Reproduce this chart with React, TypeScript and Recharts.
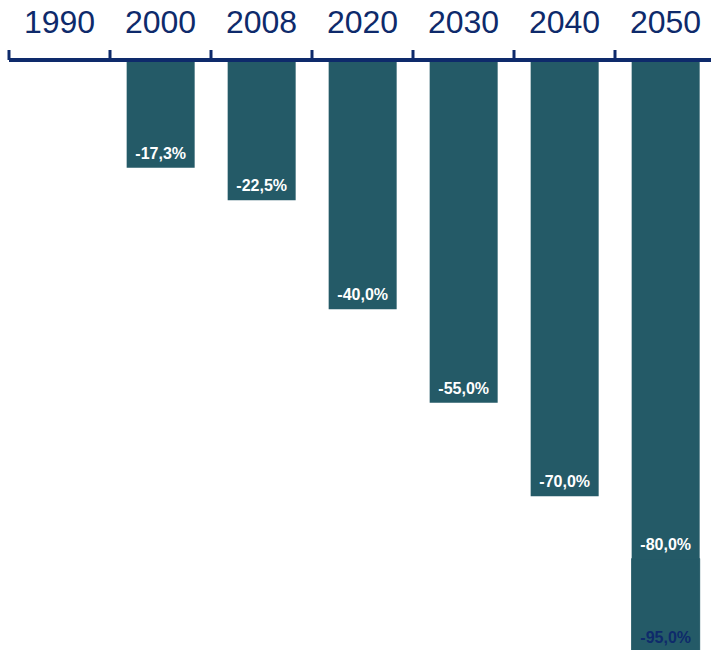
import React from 'react';
import { BarChart, Bar, XAxis, YAxis, LabelList } from 'recharts';

const years = ['1990', '2000', '2008', '2020', '2030', '2040', '2050'];
const reduction = [null, -17.3, -22.5, -40.0, -55.0, -70.0, -80.0];
const extra = [null, null, null, null, null, null, -15.0];
const totalLabel = [null, null, null, null, null, null, -95.0];
const boundaryTicks = [0, 1, 2, 3, 4, 5, 6, 7];

const data = years.map((y, i) => ({
  year: y,
  reduction: reduction[i],
  extra: extra[i],
  total: totalLabel[i],
}));

const BAR = '#245a67';
const NAVY = '#0e2a6b';
const FONT = '"Liberation Sans", Arial, sans-serif';

const fmt = (v: any) =>
  v === null || v === undefined ? '' : `${Number(v).toFixed(1).replace('.', ',')}%`;

export default function App() {
  return (
    <div
      style={{
        position: 'absolute',
        left: 0,
        top: 0,
        width: 711,
        height: 650,
        overflow: 'hidden',
        background: '#fff',
        fontFamily: FONT,
      }}
    >
      <BarChart
        width={716}
        height={652}
        data={data}
        margin={{ top: 0, right: 0, bottom: 0, left: 9 }}
        barCategoryGap="16.5%"
      >
        <XAxis
          xAxisId={0}
          type="number"
          dataKey="reduction"
          orientation="top"
          domain={[0, boundaryTicks.length - 1]}
          ticks={boundaryTicks}
          allowDataOverflow
          height={10}
          tickFormatter={() => ''}
          tick={{ fontSize: 1 }}
          tickSize={10}
          axisLine={{ stroke: NAVY, strokeWidth: 4 }}
          tickLine={{ stroke: NAVY, strokeWidth: 3 }}
        />
        <XAxis
          xAxisId="cat"
          dataKey="year"
          orientation="top"
          height={50}
          axisLine={false}
          tickLine={false}
          tickSize={0}
          tickMargin={17}
          interval={0}
          tick={{ fill: NAVY, fontSize: 32, fontFamily: FONT }}
        />
        <YAxis hide domain={[-95, 0]} allowDataOverflow />
        <Bar xAxisId="cat" dataKey="reduction" stackId="a" fill={BAR} isAnimationActive={false}>
          <LabelList
            dataKey="reduction"
            position="insideTop"
            offset={9}
            formatter={fmt}
            style={{ fill: '#ffffff', fontSize: 16, fontWeight: 'bold', fontFamily: FONT }}
          />
        </Bar>
        <Bar
          xAxisId="cat"
          dataKey="extra"
          stackId="a"
          fill={BAR}
          stroke={BAR}
          strokeWidth={1}
          isAnimationActive={false}
        >
          <LabelList
            dataKey="total"
            position="insideTop"
            offset={9}
            formatter={fmt}
            style={{ fill: NAVY, fontSize: 16, fontWeight: 'bold', fontFamily: FONT }}
          />
        </Bar>
      </BarChart>
    </div>
  );
}
